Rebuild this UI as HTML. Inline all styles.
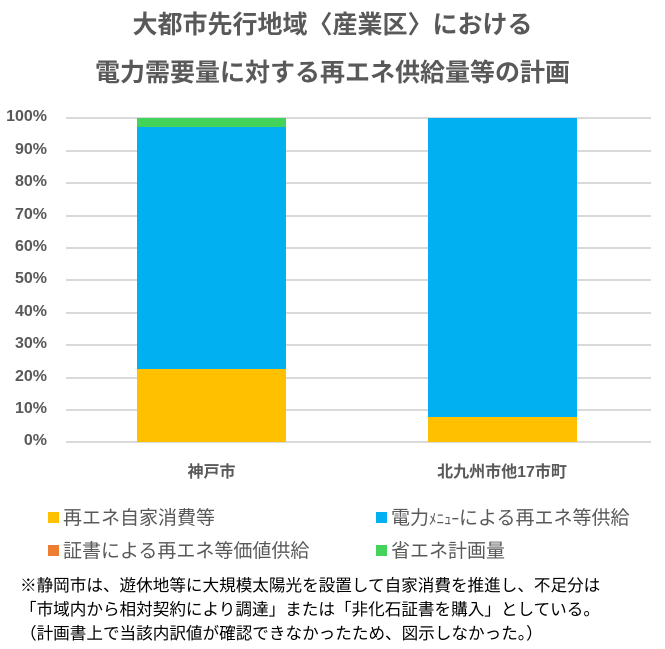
<!DOCTYPE html>
<html><head><meta charset="utf-8"><style>
body{margin:0;width:665px;height:649px;background:#fff;position:relative;overflow:hidden;font-family:"Liberation Sans","Noto Sans CJK JP",sans-serif;color:#595959}
.a{position:absolute;white-space:nowrap}
.t{left:0;width:665px;text-align:center;font-size:25px;font-weight:bold;color:#595959}
.g{position:absolute;left:66px;width:585px;height:2px;background:#d9d9d9}
.yl{position:absolute;right:618px;font-size:16px;font-weight:bold;color:#595959;text-align:right}
.b{position:absolute}
.lg{font-size:19px;color:#595959}
.m{display:inline-block;width:11px;height:11px;margin-right:4px;vertical-align:1px}
.n{font-size:16.6px;color:#000}
</style></head><body>
<div class="a t" style="top:5px">大都市先行地域〈産業区〉における</div>
<div class="a t" style="top:53px">電力需要量に対する再エネ供給量等の計画</div>

<div class="g" style="top:117px"></div>
<div class="g" style="top:150px"></div>
<div class="g" style="top:182px"></div>
<div class="g" style="top:215px"></div>
<div class="g" style="top:247px"></div>
<div class="g" style="top:279px"></div>
<div class="g" style="top:312px"></div>
<div class="g" style="top:344px"></div>
<div class="g" style="top:377px"></div>
<div class="g" style="top:409px"></div>
<div class="g" style="top:441px"></div>

<div class="yl" style="top:108px">100%</div>
<div class="yl" style="top:141px">90%</div>
<div class="yl" style="top:173px">80%</div>
<div class="yl" style="top:206px">70%</div>
<div class="yl" style="top:238px">60%</div>
<div class="yl" style="top:270px">50%</div>
<div class="yl" style="top:303px">40%</div>
<div class="yl" style="top:335px">30%</div>
<div class="yl" style="top:368px">20%</div>
<div class="yl" style="top:400px">10%</div>
<div class="yl" style="top:432px">0%</div>

<div class="b" style="left:137px;width:149px;top:118px;height:9px;background:#44d35a"></div>
<div class="b" style="left:137px;width:149px;top:127px;height:242px;background:#00b0f0"></div>
<div class="b" style="left:137px;width:149px;top:369px;height:73px;background:#ffc000"></div>

<div class="b" style="left:428px;width:149px;top:118px;height:299px;background:#00b0f0"></div>
<div class="b" style="left:428px;width:149px;top:417px;height:25px;background:#ffc000"></div>

<div class="a" style="left:137px;width:149px;text-align:center;top:458px;font-size:16px;font-weight:bold">神戸市</div>
<div class="a" style="left:402px;width:200px;text-align:center;top:458px;font-size:16px;font-weight:bold">北九州市他17市町</div>

<div class="a lg" style="left:48px;top:503px"><span class="m" style="background:#ffc000"></span>再エネ自家消費等</div>
<div class="a lg" style="left:376px;top:503px"><span class="m" style="background:#00b0f0"></span>電力<span style="font-size:15px">ﾒﾆｭｰ</span>による再エネ等供給</div>
<div class="a lg" style="left:48px;top:536px"><span class="m" style="background:#ed7d31"></span>証書による再エネ等価値供給</div>
<div class="a lg" style="left:376px;top:536px"><span class="m" style="background:#44d35a"></span>省エネ計画量</div>

<div class="a n" style="top:572px;left:20px">※静岡市は、遊休地等に大規模太陽光を設置して自家消費を推進し、不足分は</div>
<div class="a n" style="top:596px;left:20px">「市域内から相対契約により調達」または「非化石証書を購入」としている。</div>
<div class="a n" style="top:620px;left:20px">（計画書上で当該内訳値が確認できなかったため、図示しなかった。）</div>
</body></html>
